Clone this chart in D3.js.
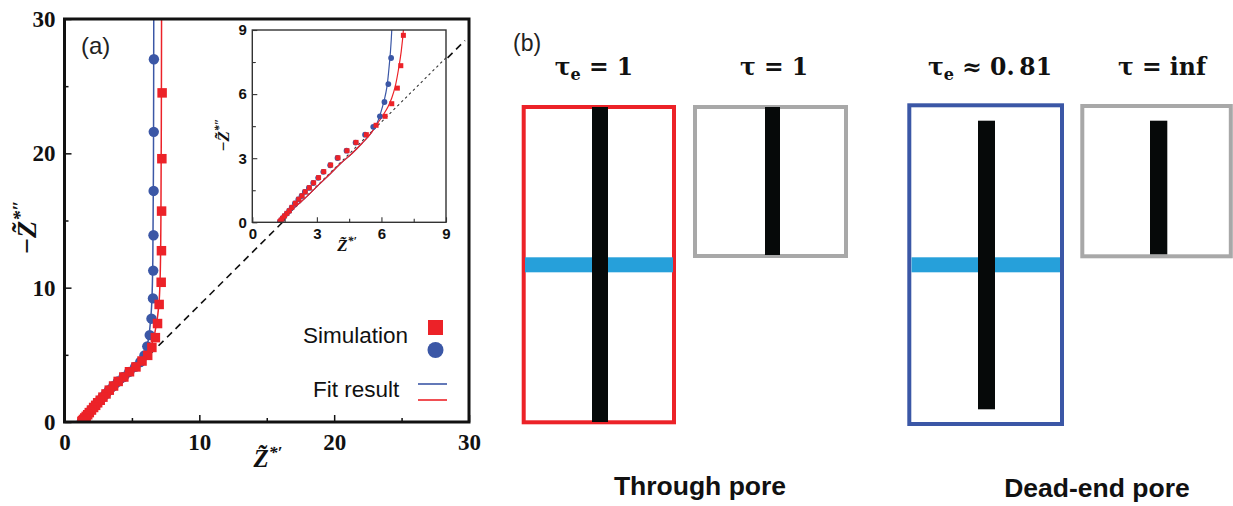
<!DOCTYPE html>
<html><head><meta charset="utf-8">
<script src="https://cdn.jsdelivr.net/npm/d3@7"></script>
<style>body{margin:0;background:#fff}svg{display:block}</style>
</head><body><svg id="c" width="1233" height="506"></svg>
<script>
// ---------- DATA ----------
const throughZr = [7.24,7.22,7.2,7.19,7.17,7.02,6.9,6.74,6.48,6.17,5.75,5.3,4.82,4.4,3.98,3.64,3.32,3.08,2.85,2.65,2.46,2.31,2.16,2.0,1.84,1.72,1.61,1.5,1.41,1.34,1.29];
const throughZi = [24.5,19.6,15.7,12.75,10.4,8.75,7.33,6.28,5.55,4.96,4.54,4.1,3.74,3.35,3.02,2.68,2.37,2.09,1.85,1.62,1.43,1.24,1.08,0.89,0.70,0.54,0.42,0.30,0.19,0.10,0.04];
const deadZr = [6.63,6.62,6.61,6.6,6.58,6.56,6.45,6.32,6.14,5.93,5.62,5.24,4.8,4.38,3.96,3.62,3.3,3.06,2.83,2.63,2.44,2.29,2.14,1.98,1.83,1.71,1.6,1.49,1.4,1.33,1.28];
const deadZi = [27.0,21.6,17.2,13.9,11.27,9.2,7.69,6.47,5.63,4.96,4.47,4.1,3.73,3.35,3.01,2.67,2.36,2.08,1.84,1.61,1.42,1.23,1.07,0.88,0.69,0.53,0.41,0.29,0.18,0.09,0.03];
const fitThroughZr = [1.28,1.4,1.6,1.84,2.2,2.6,3.08,3.6,4.1,4.63,5.1,5.5,5.78,6.09,6.3,6.48,6.65,6.8,6.92,7.02,7.1,7.15,7.18,7.2];
const fitThroughZi = [0,0.12,0.35,0.58,0.9,1.27,1.75,2.25,2.75,3.22,3.7,4.15,4.57,5.04,5.4,5.82,6.4,7.2,8.0,9,11,15,22,31];
const fitDeadZr = [1.28,1.4,1.6,1.84,2.2,2.6,3.08,3.6,4.1,4.63,5.1,5.5,5.78,6.01,6.15,6.25,6.33,6.42,6.48,6.55,6.6,6.62];
const fitDeadZi = [0,0.12,0.35,0.58,0.9,1.27,1.75,2.25,2.75,3.22,3.7,4.15,4.6,5.27,5.8,6.3,7.0,8.0,9,12,20,31];
const diagZr = [1.3, 29.7];
const diagZi = [0, 28.4];
const mainTicks = [0,10,20,30];
const mainMinorTicks = [5,15,25];
const insetTicks = [0,3,6,9];
const insetMinorTicks = [1.5,4.5,7.5];
const legendLabels = ["Simulation","Fit result"];
const panelLabels = ["(a)","(b)"];
const poreTitles = ["Through pore","Dead-end pore"];

// ---------- STYLE ----------
const RED = "#ec2228", BLUE = "#3b57a6", BAND = "#26a0da", GREY = "#a8a8a8", BAR = "#060909";
const SERIF = "'Liberation Serif','Times New Roman',serif";
const SANS = "'Liberation Sans',Arial,sans-serif";
const MATH = "'DejaVu Serif',serif";

const svg = d3.select("#c");
const zip = (a,b) => a.map((v,i)=>[v,b[i]]);
const redPts = zip(throughZr, throughZi), bluePts = zip(deadZr, deadZi);
const redFit = zip(fitThroughZr, fitThroughZi), blueFit = zip(fitDeadZr, fitDeadZi);
const diag = zip(diagZr, diagZi);

function panel(g, xs, ys, opt){
  const [x0,x1] = xs.range(), [y0,y1] = ys.range();
  const id = opt.id;
  g.append("rect").attr("x",x0).attr("y",y1).attr("width",x1-x0).attr("height",y0-y1).attr("fill","#fff");
  g.append("clipPath").attr("id",id).append("rect").attr("x",x0).attr("y",y1).attr("width",x1-x0).attr("height",y0-y1);
  const body = g.append("g").attr("clip-path",`url(#${id})`);
  const line = d3.line().x(d=>xs(d[0])).y(d=>ys(d[1]));
  const cline = d3.line().x(d=>xs(d[0])).y(d=>ys(d[1])).curve(d3.curveCatmullRom);
  body.append("path").attr("d",line(diag)).attr("fill","none").attr("stroke",opt.diagColor)
    .attr("stroke-width",opt.diagW).attr("stroke-dasharray",opt.dash);
  body.append("path").attr("d",cline(blueFit)).attr("fill","none").attr("stroke",BLUE).attr("stroke-width",opt.lw);
  body.append("path").attr("d",cline(redFit)).attr("fill","none").attr("stroke",RED).attr("stroke-width",opt.lw);
  body.selectAll("circle.b").data(bluePts).join("circle").attr("class","b")
    .attr("cx",d=>xs(d[0])).attr("cy",d=>ys(d[1])).attr("r",opt.r).attr("fill",BLUE);
  body.selectAll("rect.r").data(redPts).join("rect").attr("class","r")
    .attr("x",d=>xs(d[0])-opt.s/2).attr("y",d=>ys(d[1])-opt.s/2).attr("width",opt.s).attr("height",opt.s).attr("fill",RED);
  // axes
  const ax = g.append("g").attr("transform",`translate(0,${y0})`)
    .call(d3.axisBottom(xs).tickValues(opt.ticks).tickSizeInner(-opt.tl).tickSizeOuter(0).tickPadding(opt.padX).tickFormat(d3.format("d")));
  const axm = g.append("g").attr("transform",`translate(0,${y0})`)
    .call(d3.axisBottom(xs).tickValues(opt.minor).tickSizeInner(-opt.tm).tickSizeOuter(0).tickFormat(""));
  const ay = g.append("g").attr("transform",`translate(${x0},0)`)
    .call(d3.axisLeft(ys).tickValues(opt.ticks).tickSizeInner(-opt.tl).tickSizeOuter(0).tickPadding(opt.padY).tickFormat(d3.format("d")));
  const aym = g.append("g").attr("transform",`translate(${x0},0)`)
    .call(d3.axisLeft(ys).tickValues(opt.minor).tickSizeInner(-opt.tm).tickSizeOuter(0).tickFormat(""));
  [ax,axm,ay,aym].forEach(a=>{
    a.select(".domain").remove();
    a.selectAll("line").attr("stroke",opt.frame).attr("stroke-width",opt.tw);
    a.selectAll("text").attr("font-family",opt.tickFont).attr("font-weight","bold")
      .attr("font-size",opt.tickSize).attr("fill","#111");
  });
  g.append("rect").attr("x",x0).attr("y",y1).attr("width",x1-x0).attr("height",y0-y1)
    .attr("fill","none").attr("stroke",opt.frame).attr("stroke-width",opt.fw);
}

function zlabel(g, x, y, size, primes, rotate, minus){
  const t = g.append("text").attr("font-family",SERIF).attr("font-weight","bold").attr("font-style","italic")
    .attr("font-size",size).attr("fill","#111").attr("text-anchor","middle")
    .attr("transform",`translate(${x},${y})` + (rotate?" rotate(-90)":""));
  if(minus) t.append("tspan").attr("font-style","normal").text("\u2212");
  t.append("tspan").text("Z\u0303");
  t.append("tspan").attr("font-size",size*0.7).attr("dy",-size*0.36).text("*"+primes);
}

// ---------- PANEL (a) ----------
const x = d3.scaleLinear().domain([0,30]).range([64.5,469]);
const y = d3.scaleLinear().domain([0,30]).range([422,19]);
const gA = svg.append("g");
panel(gA, x, y, {id:"clipMain", diagColor:"#111", diagW:1.6, dash:"7,5", lw:1.5, r:5.2, s:9.5,
  ticks:mainTicks, minor:mainMinorTicks, tl:7, tm:4, tw:1.5, padX:12, padY:9,
  tickFont:SERIF, tickSize:23, frame:"#111", fw:3});
gA.append("text").attr("x",81).attr("y",54).attr("font-family",SANS).attr("font-size",24).attr("fill","#222").text(panelLabels[0]);
zlabel(gA, 268, 467, 25, "\u2032", false, false);
zlabel(gA, 36, 227, 28, "\u2033", true, true);

// legend
const leg = gA.append("g");
leg.append("text").attr("x",303).attr("y",343).attr("font-family",SANS).attr("font-size",22.5).attr("fill","#111").text(legendLabels[0]);
leg.append("rect").attr("x",428).attr("y",320).attr("width",15).attr("height",15).attr("fill",RED);
leg.append("circle").attr("cx",435.5).attr("cy",350).attr("r",8).attr("fill",BLUE);
leg.append("text").attr("x",313).attr("y",397).attr("font-family",SANS).attr("font-size",22.5).attr("fill","#111").text(legendLabels[1]);
leg.append("line").attr("x1",418).attr("x2",447).attr("y1",384).attr("y2",384).attr("stroke",BLUE).attr("stroke-width",1.6);
leg.append("line").attr("x1",418).attr("x2",447).attr("y1",400).attr("y2",400).attr("stroke",RED).attr("stroke-width",1.6);

// inset
const xi = d3.scaleLinear().domain([0,9]).range([252.3,446]);
const yi = d3.scaleLinear().domain([0,9]).range([222.3,30]);
const gI = svg.append("g");
panel(gI, xi, yi, {id:"clipInset", diagColor:"#333", diagW:1.1, dash:"2.5,3", lw:1.2, r:2.9, s:5,
  ticks:insetTicks, minor:insetMinorTicks, tl:5, tm:3.5, tw:1.1, padX:6, padY:5.5,
  tickFont:SANS, tickSize:15, frame:"#333", fw:1.4});
zlabel(gI, 347, 251, 17, "\u2032", false, false);
zlabel(gI, 229, 135, 17, "\u2033", true, true);

// ---------- PANEL (b) ----------
const gB = svg.append("g");
gB.append("text").attr("x",513).attr("y",51).attr("font-family",SANS).attr("font-size",23).attr("fill","#222").text(panelLabels[1]);
const boxes = [
  {x:523.7,y:107,w:150.3,h:315.3,c:RED, bar:[592,608,107,422], band:[525,673]},
  {x:695,y:107,w:151,h:149,c:GREY, bar:[765,780,107,255]},
  {x:909.3,y:105.3,w:152.7,h:318.7,c:BLUE, bar:[978,995,120.7,409.3], band:[911.5,1060]},
  {x:1082.3,y:106,w:148.5,h:150.3,c:GREY, bar:[1150,1167.3,120.7,254.3]}
];
boxes.forEach(b=>{
  gB.append("rect").attr("x",b.x).attr("y",b.y).attr("width",b.w).attr("height",b.h)
    .attr("fill","#fff").attr("stroke",b.c).attr("stroke-width",4);
  if(b.band) gB.append("rect").attr("x",b.band[0]).attr("y",257.3).attr("width",b.band[1]-b.band[0]).attr("height",15).attr("fill",BAND);
  gB.append("rect").attr("x",b.bar[0]).attr("y",b.bar[2]).attr("width",b.bar[1]-b.bar[0]).attr("height",b.bar[3]-b.bar[2]).attr("fill",BAR);
});
function tau(xc, sub, rest){
  const t = gB.append("text").attr("x",xc).attr("y",75).attr("text-anchor","middle")
    .attr("font-family",MATH).attr("font-weight","bold").attr("font-size",23.5).attr("fill","#111");
  t.append("tspan").text("\u03C4");
  if(sub){ t.append("tspan").attr("font-size",16).attr("dy",5).text(sub); t.append("tspan").attr("dy",-5).text(rest); }
  else t.append("tspan").text(rest);
}
tau(594, "e", " = 1");
tau(774, null, " = 1");
tau(990, "e", " \u2248 0.\u200981");
tau(1162, null, " = inf");
gB.append("text").attr("x",700).attr("y",495).attr("text-anchor","middle").attr("font-family",SANS)
  .attr("font-weight","bold").attr("font-size",26.5).attr("fill","#111").text(poreTitles[0]);
gB.append("text").attr("x",1097).attr("y",497).attr("text-anchor","middle").attr("font-family",SANS)
  .attr("font-weight","bold").attr("font-size",26.5).attr("fill","#111").text(poreTitles[1]);
</script></body></html>
